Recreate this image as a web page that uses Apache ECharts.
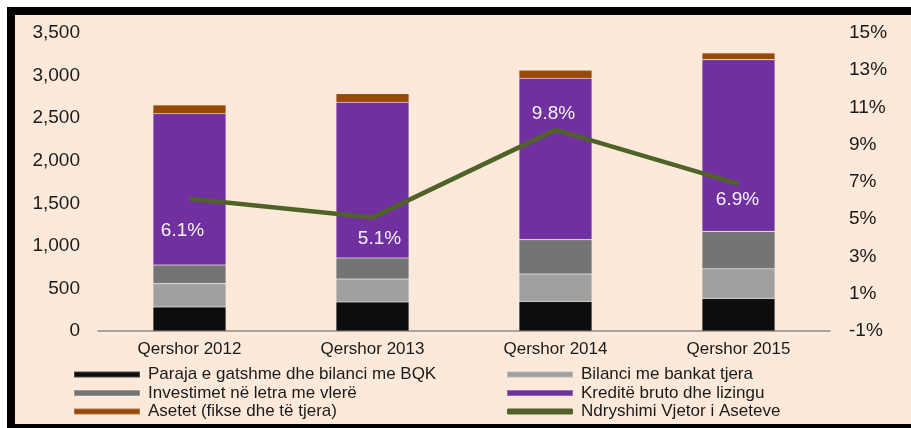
<!DOCTYPE html>
<html>
<head>
<meta charset="utf-8">
<script src="https://cdn.jsdelivr.net/npm/echarts@6/dist/echarts.min.js"></script>
<style>
  body { margin: 0; background: #ffffff; }
  #frame {
    position: absolute; left: 7px; top: 7px; width: 904px; height: 421px;
    box-sizing: border-box; background: #FDE9D9;
    border-left: 8px solid #000; border-top: 8px solid #000; border-bottom: 4px solid #000;
  }
  #chart { position: absolute; left: 0; top: 0; width: 911px; height: 428px; }
</style>
</head>
<body>
<div id="frame"></div>
<div id="chart"></div>
<script>
var kategorite = ['Qershor 2012', 'Qershor 2013', 'Qershor 2014', 'Qershor 2015'];

// milion euro
var paraja = [282, 341, 348, 383];
var bilanciBankat = [274, 270, 322, 349];
var investimet = [219, 247, 403, 438];
var kredite = [1777, 1828, 1895, 2017];
var asetet = [102, 102, 94, 79];

// ndryshimi vjetor (%)
var ndryshimi = [6.1, 5.1, 9.8, 6.9];

var emrat = [
  'Paraja e gatshme dhe bilanci me BQK',
  'Bilanci me bankat tjera',
  'Investimet në letra me vlerë',
  'Kreditë bruto dhe lizingu',
  'Asetet (fikse dhe të tjera)',
  'Ndryshimi Vjetor i Aseteve'
];

var ngjyrat = ['#0d0d0d', '#a0a0a0', '#747474', '#7030a0', '#984807', '#4f6228'];
var fonti = '"Liberation Sans", Arial, sans-serif';

// zhvendosja e etiketave te vijes
var zhvendosjet = [[-7, 32], [7, 21], [-2, -16], [-1, 16]];

var chartDom = document.getElementById('chart');
var myChart = echarts.init(chartDom, null, { renderer: 'canvas' });

function shtylla(i, vlerat) {
  return {
    name: emrat[i],
    type: 'bar',
    stack: 'asetet',
    barWidth: 73,
    yAxisIndex: 0,
    itemStyle: { color: ngjyrat[i], borderColor: 'rgba(255,255,255,0.25)', borderWidth: 0.6 },
    emphasis: { disabled: true },
    data: vlerat
  };
}

var option = {
  backgroundColor: 'transparent',
  animation: false,
  textStyle: { fontFamily: fonti },
  grid: { left: 98, right: 81, top: 33, bottom: 97 },
  legend: [
    {
      left: 68, top: 361, orient: 'vertical',
      itemWidth: 66, itemHeight: 6, itemGap: 1.5,
      icon: 'rect',
      textStyle: { fontFamily: fonti, fontSize: 17, color: '#1a1a1a', padding: [0, 0, 0, 3] },
      data: [emrat[0], emrat[2], emrat[4]]
    },
    {
      left: 501, top: 361, orient: 'vertical',
      itemWidth: 66, itemHeight: 6, itemGap: 1.5,
      textStyle: { fontFamily: fonti, fontSize: 17, color: '#1a1a1a', padding: [0, 0, 0, 3] },
      data: [
        { name: emrat[1], icon: 'rect' },
        { name: emrat[3], icon: 'rect' },
        { name: emrat[5], icon: 'roundRect' }
      ]
    }
  ],
  xAxis: {
    type: 'category',
    data: kategorite,
    axisLine: { lineStyle: { color: '#8a8a8a', width: 1.5 } },
    axisTick: { inside: true, length: 4, lineStyle: { color: '#8a8a8a', width: 1.5 } },
    axisLabel: { fontFamily: fonti, fontSize: 17, color: '#1a1a1a', margin: 10 }
  },
  yAxis: [
    {
      type: 'value', min: 0, max: 3500, interval: 500,
      axisLine: { show: false }, axisTick: { show: false }, splitLine: { show: false },
      axisLabel: {
        fontFamily: fonti, fontSize: 19, color: '#1a1a1a', margin: 18,
        formatter: function (v) { return v.toLocaleString('en-US'); }
      }
    },
    {
      type: 'value', min: -1, max: 15, interval: 2,
      axisLine: { show: false }, axisTick: { show: false }, splitLine: { show: false },
      axisLabel: { fontFamily: fonti, fontSize: 19, color: '#1a1a1a', margin: 19, formatter: '{value}%' }
    }
  ],
  series: [
    shtylla(0, paraja),
    shtylla(1, bilanciBankat),
    shtylla(2, investimet),
    shtylla(3, kredite),
    shtylla(4, asetet),
    {
      name: emrat[5],
      type: 'line',
      yAxisIndex: 1,
      symbol: 'circle',
      symbolSize: 1,
      z: 5,
      lineStyle: { color: ngjyrat[5], width: 4.5 },
      itemStyle: { color: ngjyrat[5] },
      emphasis: { disabled: true },
      data: ndryshimi.map(function (v, i) {
        return {
          value: v,
          label: {
            show: true, position: 'inside', offset: zhvendosjet[i],
            color: '#f4f4f4', fontFamily: fonti, fontSize: 19,
            formatter: function (p) { return p.value.toFixed(1) + '%'; }
          }
        };
      })
    }
  ]
};

option && myChart.setOption(option);
</script>
</body>
</html>
